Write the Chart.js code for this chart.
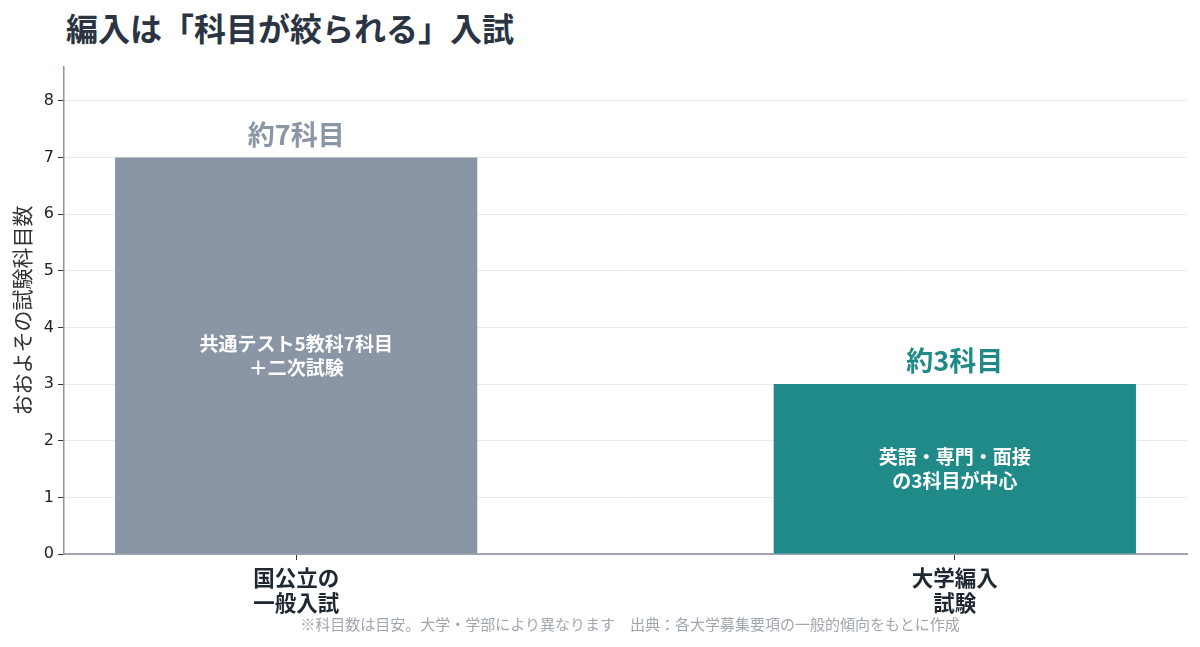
<!DOCTYPE html>
<html lang="ja">
<head>
<meta charset="utf-8">
<script src="https://cdn.jsdelivr.net/npm/chart.js@4"></script>
<style>
  html, body { margin: 0; padding: 0; background: #fff; }
  #wrap { position: relative; width: 1200px; height: 647px; font-family: "Noto Sans CJK JP", "Noto Sans", sans-serif; }
  #chart { position: absolute; left: 0; top: 0; }
  #title { position: absolute; left: 66px; top: 5px; margin: 0; font-size: 32px; font-weight: 700; color: #2b3442; line-height: 44px; }
  #note { position: absolute; left: 0; width: 1260px; top: 614px; text-align: center; font-size: 15px; color: #a0a6b0; line-height: 20px; }
</style>
</head>
<body>
<div id="wrap">
  <h1 id="title">編入は「科目が絞られる」入試</h1>
  <canvas id="chart" width="1200" height="647"></canvas>
  <div id="note">※科目数は目安。大学・学部により異なります　出典：各大学募集要項の一般的傾向をもとに作成</div>
</div>
<script>
// データ
const categories = [['国公立の', '一般入試'], ['大学編入', '試験']];
const subjectCounts = [7, 3];
const valueLabels = ['約7科目', '約3科目'];
const innerLabels = [['共通テスト5教科7科目', '＋二次試験'], ['英語・専門・面接', 'の3科目が中心']];
const barColors = ['#8a95a5', '#1f8a87'];
const yTicks = [0, 1, 2, 3, 4, 5, 6, 7, 8];

const JP = '"Noto Sans CJK JP", "Noto Sans", sans-serif';

// ラベル描画用プラグイン
const barLabels = {
    id: 'barLabels',
    afterDatasetsDraw(chart) {
        const ctx = chart.ctx;
        const meta = chart.getDatasetMeta(0);
        meta.data.forEach((bar, i) => {
            ctx.save();
            ctx.textAlign = 'center';
            ctx.textBaseline = 'middle';
            // 上のラベル
            ctx.fillStyle = barColors[i];
            ctx.font = 'bold 27px ' + JP;
            ctx.fillText(valueLabels[i], bar.x, bar.y - 23);
            // 中のラベル
            ctx.fillStyle = '#ffffff';
            ctx.font = 'bold 19px ' + JP;
            const mid = (bar.y + bar.base) / 2;
            const lines = innerLabels[i];
            const lh = 24;
            lines.forEach((line, j) => {
                ctx.fillText(line, bar.x, mid + (j - (lines.length - 1) / 2) * lh);
            });
            ctx.restore();
        });
    }
};

new Chart(document.getElementById('chart'), {
    type: 'bar',
    data: {
        datasets: [{
            data: categories.map((c, i) => ({ x: i, y: subjectCounts[i] })),
            backgroundColor: barColors,
            borderWidth: 0,
            barPercentage: 0.55,
            categoryPercentage: 1.0
        }]
    },
    options: {
        responsive: false,
        animation: false,
        layout: { padding: { left: 0, top: 67, right: 13, bottom: 0 } },
        plugins: {
            legend: { display: false },
            tooltip: { enabled: false }
        },
        scales: {
            x: {
                type: 'linear',
                offset: false,
                min: -0.3525,
                max: 1.3525,
                afterBuildTicks: (scale) => {
                    scale.ticks = categories.map((c, i) => ({ value: i }));
                },
                afterFit: (scale) => { scale.height = 93; },
                grid: { offset: false, drawOnChartArea: false, drawTicks: true, tickLength: 6, tickColor: '#333' },
                border: { color: '#a0a5b1', width: 2 },
                ticks: {
                    padding: 5,
                    color: '#1f2733',
                    font: { family: JP, size: 21.5, weight: 'bold', lineHeight: 1.16 },
                    callback: (value) => categories[value]
                }
            },
            y: {
                min: 0,
                max: 8.6,
                afterBuildTicks: (scale) => {
                    scale.ticks = yTicks.map(v => ({ value: v }));
                },
                afterFit: (scale) => { scale.width = 64; },
                grid: { color: '#e8eaee', tickLength: 6, tickColor: '#333', lineWidth: 1 },
                border: { color: '#8a94a6', width: 1.5 },
                ticks: {
                    padding: 4,
                    color: '#222',
                    font: { family: '"DejaVu Sans", sans-serif', size: 16 }
                },
                title: {
                    display: true,
                    text: 'おおよその試験科目数',
                    color: '#333',
                    padding: { top: 9, bottom: 0 },
                    font: { family: JP, size: 21 }
                }
            }
        }
    },
    plugins: [barLabels]
});
</script>
</body>
</html>
